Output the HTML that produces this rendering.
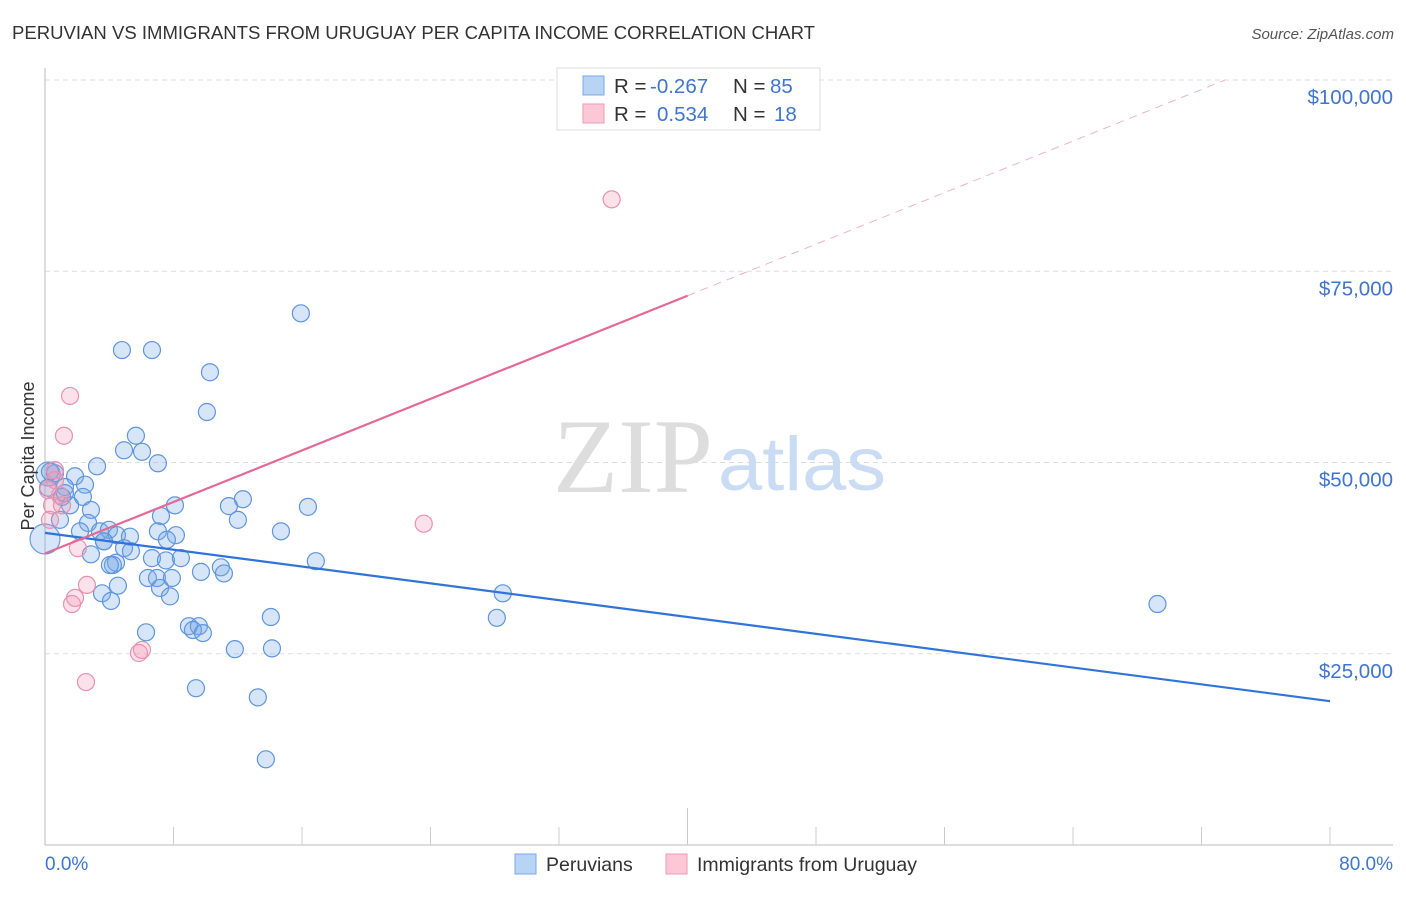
<!DOCTYPE html>
<html><head><meta charset="utf-8"><style>
body{margin:0;background:#fff;font-family:"Liberation Sans",sans-serif}
svg text{font-family:"Liberation Sans",sans-serif}
</style></head><body>
<svg width="1406" height="892" viewBox="0 0 1406 892">
<text x="12" y="39" font-size="18" fill="#333" textLength="803" lengthAdjust="spacingAndGlyphs">PERUVIAN VS IMMIGRANTS FROM URUGUAY PER CAPITA INCOME CORRELATION CHART</text>
<text x="1394" y="39" font-size="15" fill="#555" font-style="italic" text-anchor="end">Source: ZipAtlas.com</text>
<g id="grid"></g>
<text x="553" y="492" font-size="106" fill="#ddd" textLength="160" lengthAdjust="spacingAndGlyphs" style="font-family:'Liberation Serif',serif">ZIP</text>
<text x="718" y="490" font-size="76" fill="#c9dcf3" textLength="168" lengthAdjust="spacingAndGlyphs">atlas</text>
<g id="axes"></g>
<g id="pts"></g>
<g id="lines"></g>
<text x="34" y="456" font-size="18" fill="#333" text-anchor="middle" transform="rotate(-90 34 456)">Per Capita Income</text>
<text x="45" y="870" font-size="19" fill="#3f74d0">0.0%</text>
<text x="1393" y="870" font-size="19" fill="#3f74d0" text-anchor="end">80.0%</text>
<g>
<rect x="557" y="68" width="263" height="62" fill="#fff" stroke="#ddd"/>
<rect x="583" y="76" width="21" height="19" fill="#b8d4f5" stroke="#7aa8e8"/>
<rect x="583" y="104" width="21" height="19" fill="#fcc8d8" stroke="#ee9ab5"/>
<text x="614" y="93" font-size="20.5" fill="#333">R = <tspan x="650" fill="#3f74d0">-0.267</tspan><tspan x="733">N = </tspan><tspan x="770" fill="#3f74d0">85</tspan></text>
<text x="614" y="121" font-size="20.5" fill="#333">R = <tspan x="657" fill="#3f74d0">0.534</tspan><tspan x="733">N = </tspan><tspan x="774" fill="#3f74d0">18</tspan></text>
</g>
<g>
<rect x="515" y="854" width="21" height="20" fill="#b8d4f5" stroke="#7aa8e8"/>
<text x="546" y="871" font-size="19.5" fill="#333">Peruvians</text>
<rect x="666" y="854" width="21" height="20" fill="#fcc8d8" stroke="#ee9ab5"/>
<text x="697" y="871" font-size="19.5" fill="#333">Immigrants from Uruguay</text>
</g>
</svg>
<script>
const yTicks=[25000,50000,75000,100000];
const yTickLabels=["$25,000","$50,000","$75,000","$100,000"];
const blueX=[4.79,6.66,15.93,10.27,10.08,5.66,4.92,6.04,7.03,3.24,1.87,0.62,2.49,1.24,2.36,1.06,1.56,2.86,8.09,12.32,11.45,16.37,12.01,7.22,2.68,2.18,3.42,3.98,4.48,5.29,14.69,7.03,8.15,7.59,3.67,4.92,5.35,6.66,7.53,8.46,2.86,4.42,4.23,16.86,10.95,9.71,11.14,6.41,6.97,7.90,4.54,7.16,3.55,7.78,4.11,28.50,69.26,14.06,28.13,6.29,8.96,9.58,9.21,9.83,11.82,14.13,9.40,13.25,13.75,0.31,0.19,0.93,4.04,3.67,1.24];
const blueY=[64700,64700,69500,61800,56600,53500,51600,51400,49900,49500,48200,48600,47100,46800,45500,45500,44400,43800,44400,45200,44300,44200,42500,43000,42100,41000,41000,41200,40500,40300,41000,41000,40500,39900,39700,38800,38400,37500,37200,37500,38000,36900,36600,37100,36300,35700,35500,34900,34900,34900,33900,33600,32900,32500,31900,32900,31500,29800,29700,27800,28600,28600,28100,27700,25600,25700,20500,19300,11200,48800,46700,42500,36600,39700,46000];
const pinkX=[35.28,1.56,1.18,23.58,0.62,0.93,0.44,1.06,0.31,2.05,2.61,1.87,1.68,6.04,5.85,2.55,0.62,0.19];
const pinkY=[84400,58700,53500,42000,47700,45700,44400,44400,42500,38800,34000,32300,31500,25500,25100,21300,49000,46400];
const blueTrend=[[0,40800],[80,18800]];
const pinkTrend=[[0,38100],[40,71800]];
const pinkTrendExt=[[40,71800],[80,105500]];
const NS='http://www.w3.org/2000/svg';
const sx=v=>45+v*(1285/80);
const sy=v=>845-v*(765/100000);
function mk(tag,attrs,parent){const e=document.createElementNS(NS,tag);for(const k in attrs)e.setAttribute(k,attrs[k]);document.getElementById(parent).appendChild(e);return e;}
yTicks.forEach((t,i)=>{
 const g=mk('line',{x1:45,x2:1393,y1:sy(t),y2:sy(t),stroke:'#ddd','stroke-dasharray':'5,4'},'grid');
 
 
 const tx=mk('text',{x:1393,y:sy(t)+24,'font-size':20.5,fill:'#3f74d0','text-anchor':'end'},'grid');
 tx.textContent=yTickLabels[i];
 
 
});
let a=mk('line',{x1:45,x2:45,y1:68,y2:845,stroke:'#bbb'},'axes');


a=mk('line',{x1:45,x2:1393,y1:845,y2:845,stroke:'#bbb'},'axes');


for(let i=1;i<=10;i++){
 const t=mk('line',{x1:sx(i*8),x2:sx(i*8),y1:i==5?808:827,y2:845,stroke:'#ccc'},'axes');
 
 
}
function dot(x,y,r,fill,stroke,name){
 const c=mk('circle',{cx:sx(x),cy:sy(y),r:r,fill:fill,stroke:stroke,'stroke-width':1.2},'pts');
 
 
}
dot(0,40000,15,'rgba(120,170,230,0.3)','#6a9de0','point-peruvians');
dot(0.2,48500,12,'rgba(120,170,230,0.3)','#6a9de0','point-peruvians');
blueX.forEach((x,i)=>dot(x,blueY[i],8.5,'rgba(120,170,230,0.3)','#5f95de','point-peruvians'));
pinkX.forEach((x,i)=>dot(x,pinkY[i],8.5,'rgba(240,150,180,0.28)','#ea90ae','point-uruguay'));
function ln(p,stroke,w,dash,name){
 const l=mk('line',{x1:sx(p[0][0]),y1:sy(p[0][1]),x2:sx(p[1][0]),y2:sy(p[1][1]),stroke:stroke,'stroke-width':w},'lines');
 if(dash)l.setAttribute('stroke-dasharray',dash);
 
 
 return l;
}
ln(blueTrend,'#2f74d8',2.2,null,'trend-peruvians');
ln(pinkTrend,'#e46a94',2.2,null,'trend-uruguay');
const e=pinkTrendExt, t=(100000-e[0][1])/(e[1][1]-e[0][1]);
const clipped=[e[0],[e[0][0]+(e[1][0]-e[0][0])*Math.min(1,t),Math.min(100000,e[1][1])]];
ln(clipped,'#f0b3c7',1,'8,6','trend-uruguay-extension');
</script>
</body></html>
